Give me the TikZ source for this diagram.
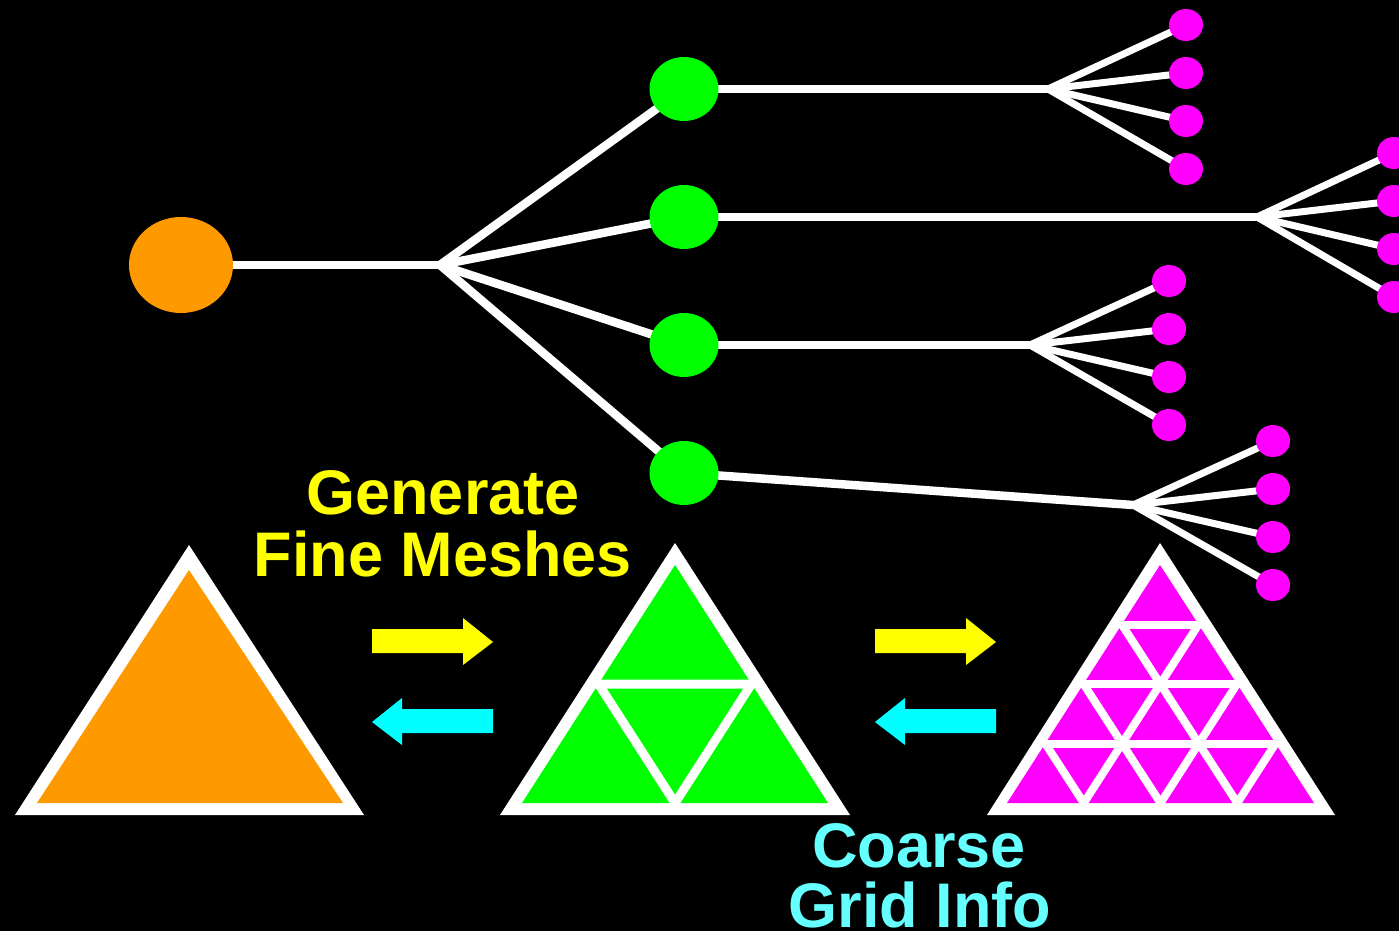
\documentclass[tikz,border=0pt]{standalone}
\usepackage{fontspec}
\setmainfont{Liberation Sans}
\usetikzlibrary{shapes.geometric,calc}
\pgfdeclarelayer{bg}
\pgfdeclarelayer{edges}
\pgfsetlayers{bg,edges,main}
\definecolor{rootorange}{RGB}{255,153,0}
\definecolor{levelgreen}{RGB}{0,255,0}
\definecolor{leafmagenta}{RGB}{255,0,255}
\definecolor{fwdyellow}{RGB}{255,255,0}
\definecolor{backcyan}{RGB}{0,255,255}
\definecolor{labelcyan}{RGB}{102,255,255}
\tikzset{
  rootnode/.style={ellipse,fill=rootorange,minimum width=104pt,minimum height=96pt,inner sep=0pt},
  midnode/.style={ellipse,fill=levelgreen,minimum width=69pt,minimum height=64pt,inner sep=0pt},
  leafnode/.style={ellipse,fill=leafmagenta,minimum width=34pt,minimum height=32pt,inner sep=0pt},
  trunk/.style={white,line width=8.5pt},
  twig/.style={white,line width=7pt},
  meshline/.style={white,line width=9pt},
  label/.style={font=\bfseries\fontsize{63}{63}\selectfont,anchor=base,inner sep=0pt},
}
\begin{document}
\begin{tikzpicture}[x=1pt,y=-1pt]
\begin{pgfonlayer}{bg}
  \fill[black] (0,0) rectangle (1399,931);
\end{pgfonlayer}
\useasboundingbox (0,0) rectangle (1399,931);

% ---- hierarchy tree ----
\node[rootnode] (root) at (181,265) {};
\node[midnode] (g1) at (684,89) {};
\node[midnode] (g2) at (684,217) {};
\node[midnode] (g3) at (684,345) {};
\node[midnode] (g4) at (684,473) {};
\coordinate (b0) at (440,265);
\coordinate (b1) at (1048,89);
\coordinate (b2) at (1257,217);
\coordinate (b3) at (1030,345);
\coordinate (b4) at (1133,505);

\foreach \g/\x/\y in {1/1186/25, 2/1394/153, 3/1169/281, 4/1273/441}{
  \foreach \k in {1,2,3,4}{
    \node[leafnode] (l\g-\k) at (\x,{\y+48*(\k-1)}) {};
  }
}

\begin{pgfonlayer}{edges}
  \draw[trunk] (root.center) -- (b0);
  \foreach \i in {1,2,3,4}{
    \draw[trunk] (b0) -- (g\i.center);
    \draw[trunk] (g\i.center) -- (b\i);
    \foreach \k in {1,2,3,4}{
      \draw[twig] (b\i) -- (l\i-\k.center);
    }
  }
\end{pgfonlayer}

% ---- coarse mesh ----
\fill[white] (189,545) -- (15,815) -- (364,815) -- cycle;
\fill[rootorange] (189,570) -- (37,803) -- (343,803) -- cycle;

% ---- once refined mesh ----
\fill[white] (675,543) -- (500,815) -- (850,815) -- cycle;
\coordinate (ga) at (675,565);
\coordinate (gb) at (522,803);
\coordinate (gc) at (828,803);
\fill[levelgreen] (ga) -- (gb) -- (gc) -- cycle;
\draw[meshline] ($(ga)!0.5!(gb)$) -- ($(ga)!0.5!(gc)$)
  -- ($(gb)!0.5!(gc)$) -- cycle;

% ---- twice refined mesh ----
\fill[white] (1160,543) -- (987,815) -- (1335,815) -- cycle;
\coordinate (ma) at (1160,565);
\coordinate (mb) at (1007,803);
\coordinate (mc) at (1314,803);
\fill[leafmagenta] (ma) -- (mb) -- (mc) -- cycle;
\foreach \t in {0.25,0.5,0.75}{
  \draw[meshline,line width=8pt] ($(ma)!\t!(mb)$) -- ($(ma)!\t!(mc)$);
  \draw[meshline,line width=8pt] ($(mb)!\t!(mc)$) -- ($(ma)!\t!(mc)$);
  \draw[meshline,line width=8pt] ($(mb)!\t!(mc)$) -- ($(mb)!\t!(ma)$);
}

% ---- transfer arrows ----
\foreach \dx in {0,503}{
  \fill[fwdyellow] (372+\dx,629) -- (463+\dx,629) -- (463+\dx,618) -- (493+\dx,642)
    -- (463+\dx,665) -- (463+\dx,653) -- (372+\dx,653) -- cycle;
  \fill[backcyan] (493+\dx,709) -- (402+\dx,709) -- (402+\dx,698) -- (372+\dx,722)
    -- (402+\dx,745) -- (402+\dx,733) -- (493+\dx,733) -- cycle;
}

% ---- labels ----
\node[label,text=fwdyellow] (gen1) at (443,514) {Generate};
\node[label,text=fwdyellow] (gen2) at (443,576) {Fine Meshes};
\node[label,text=labelcyan] (crs1) at (919,867) {Coarse};
\node[label,text=labelcyan] (crs2) at (920,927) {Grid Info};
\end{tikzpicture}
\end{document}
